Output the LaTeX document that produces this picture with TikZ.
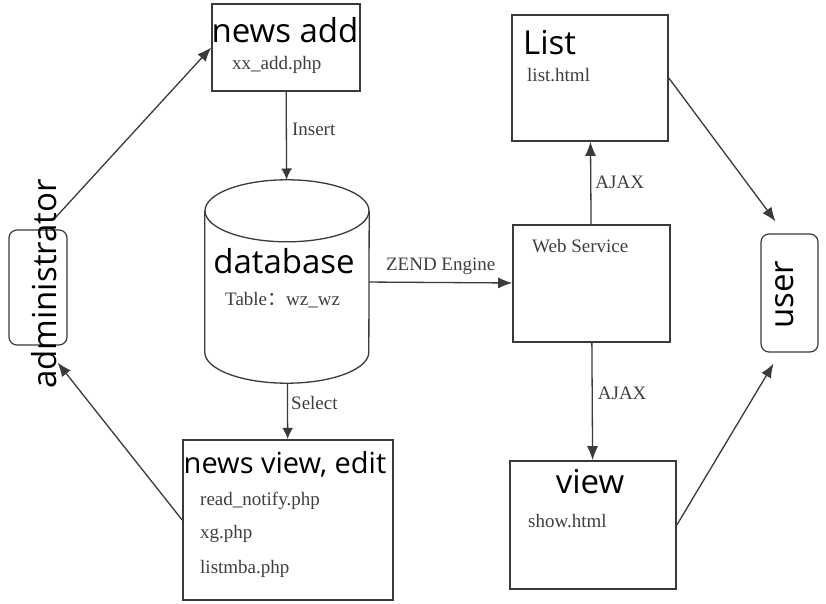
\documentclass[tikz,border=0pt]{standalone}
\usepackage{fontspec}
\setmainfont{Liberation Serif}
\newfontfamily\sans{Open Sans}
\newfontfamily\cjk{Noto Sans CJK SC}
\usetikzlibrary{arrows.meta}
\definecolor{linegray}{HTML}{3A3A3A}
\definecolor{textgray}{HTML}{3F3F3F}

\begin{document}
\begin{tikzpicture}[x=1pt, y=-1pt,
  box/.style={draw=linegray, line width=1.6pt, inner sep=0pt},
  actor/.style={box, rounded corners=8pt, line width=1.2pt},
  store/.style={draw=linegray, line width=1.3pt},
  title/.style={font=\sans\fontsize{33}{36}\selectfont, inner sep=0pt, anchor=base},
  file/.style={font=\fontsize{19}{22}\selectfont, text=textgray, inner sep=0pt, anchor=base west},
  lbl/.style={file},
  arr/.style={draw=linegray, line width=1.3pt, -{Latex[length=14pt,width=11pt]}},
  dbarr/.style={arr, -{Bar[width=10pt] Latex[length=10pt,width=9pt]}}]
\fill[white] (0,0) rectangle (826,604);
\useasboundingbox (0,0) rectangle (826,604);

% Boxes
\node[box, minimum width=148pt, minimum height=87pt] (add) at (286,47.5) {};
\node[inner sep=0pt, minimum width=164pt, minimum height=203pt] (db) at (287,281.5) {};
\node[box, minimum width=210pt, minimum height=160pt] (edit) at (288,520) {};
\node[actor, minimum width=58pt, minimum height=115pt] (admin) at (38,287.5) {};
\node[box, minimum width=156pt, minimum height=126pt] (list) at (590,78) {};
\node[box, minimum width=157pt, minimum height=117pt] (ws) at (591.5,283.5) {};
\node[box, minimum width=166pt, minimum height=128pt] (view) at (593,525) {};
\node[actor, minimum width=57pt, minimum height=118pt] (user) at (789.5,293) {};

% the database drum
\draw[store] ([yshift=-31pt]db.north) ellipse [x radius=82pt, y radius=31pt];
\draw[store] ([yshift=-31pt]db.north west) -- ([yshift=31pt]db.south west)
  arc [start angle=180, end angle=360, x radius=82pt, y radius=31pt]
  -- ([yshift=-31pt]db.north east);

% Texts
\node[title] (addT) at (285,43) {news add};
\node[file] (addF) at (232,70) {xx\_add.php};
\node[title] (dbT) at (284,273) {database};
\node[file] (dbF) at (225,305) {Table{\cjk ：}wz\_wz};
\node[title, font=\sans\fontsize{29}{34}\selectfont] (editT) at (285,473) {news view, edit};
\node[file] (editA) at (200,505) {read\_notify.php};
\node[file] (editB) at (200,538) {xg.php};
\node[file] (editC) at (200,573) {listmba.php};
\node[title, rotate=90, anchor=center] (adminT) at (44,284) {administrator};
\node[title, anchor=base west] (listT) at (523,55) {List};
\node[file] (listF) at (527,82) {list.html};
\node[file] (wsT) at (532,252) {Web Service};
\node[title] (viewT) at (590,493) {view};
\node[file] (viewF) at (528,527) {show.html};
\node[title, rotate=90, anchor=center] (userT) at (785,295) {user};

% Links
\draw[arr] ([xshift=-12pt,yshift=12pt]admin.north east) -- (add.west);
\draw[dbarr] (add) -- (db) node[lbl, midway, xshift=5pt] (insL) {Insert};
\draw[dbarr] (db) -- (edit) node[lbl, midway, xshift=3pt, yshift=2pt] (selL) {Select};
\draw[arr] (edit.west) -- ([xshift=-10pt,yshift=-17pt]admin.south east);
\draw[arr] (db) -- (ws) node[lbl, midway, anchor=base, yshift=12pt] (zendL) {ZEND Engine};
\draw[arr] (ws) -- (list) node[lbl, midway, xshift=4pt, yshift=-5pt] (upL) {AJAX};
\draw[arr] (ws) -- (view) node[lbl, midway, xshift=5pt, yshift=2.5pt] (downL) {AJAX};
\draw[arr] (list.east) -- ([xshift=-14pt,yshift=12pt]user.north);
\draw[arr] (view.east) -- ([xshift=-16pt,yshift=-11pt]user.south);
\end{tikzpicture}
\end{document}
